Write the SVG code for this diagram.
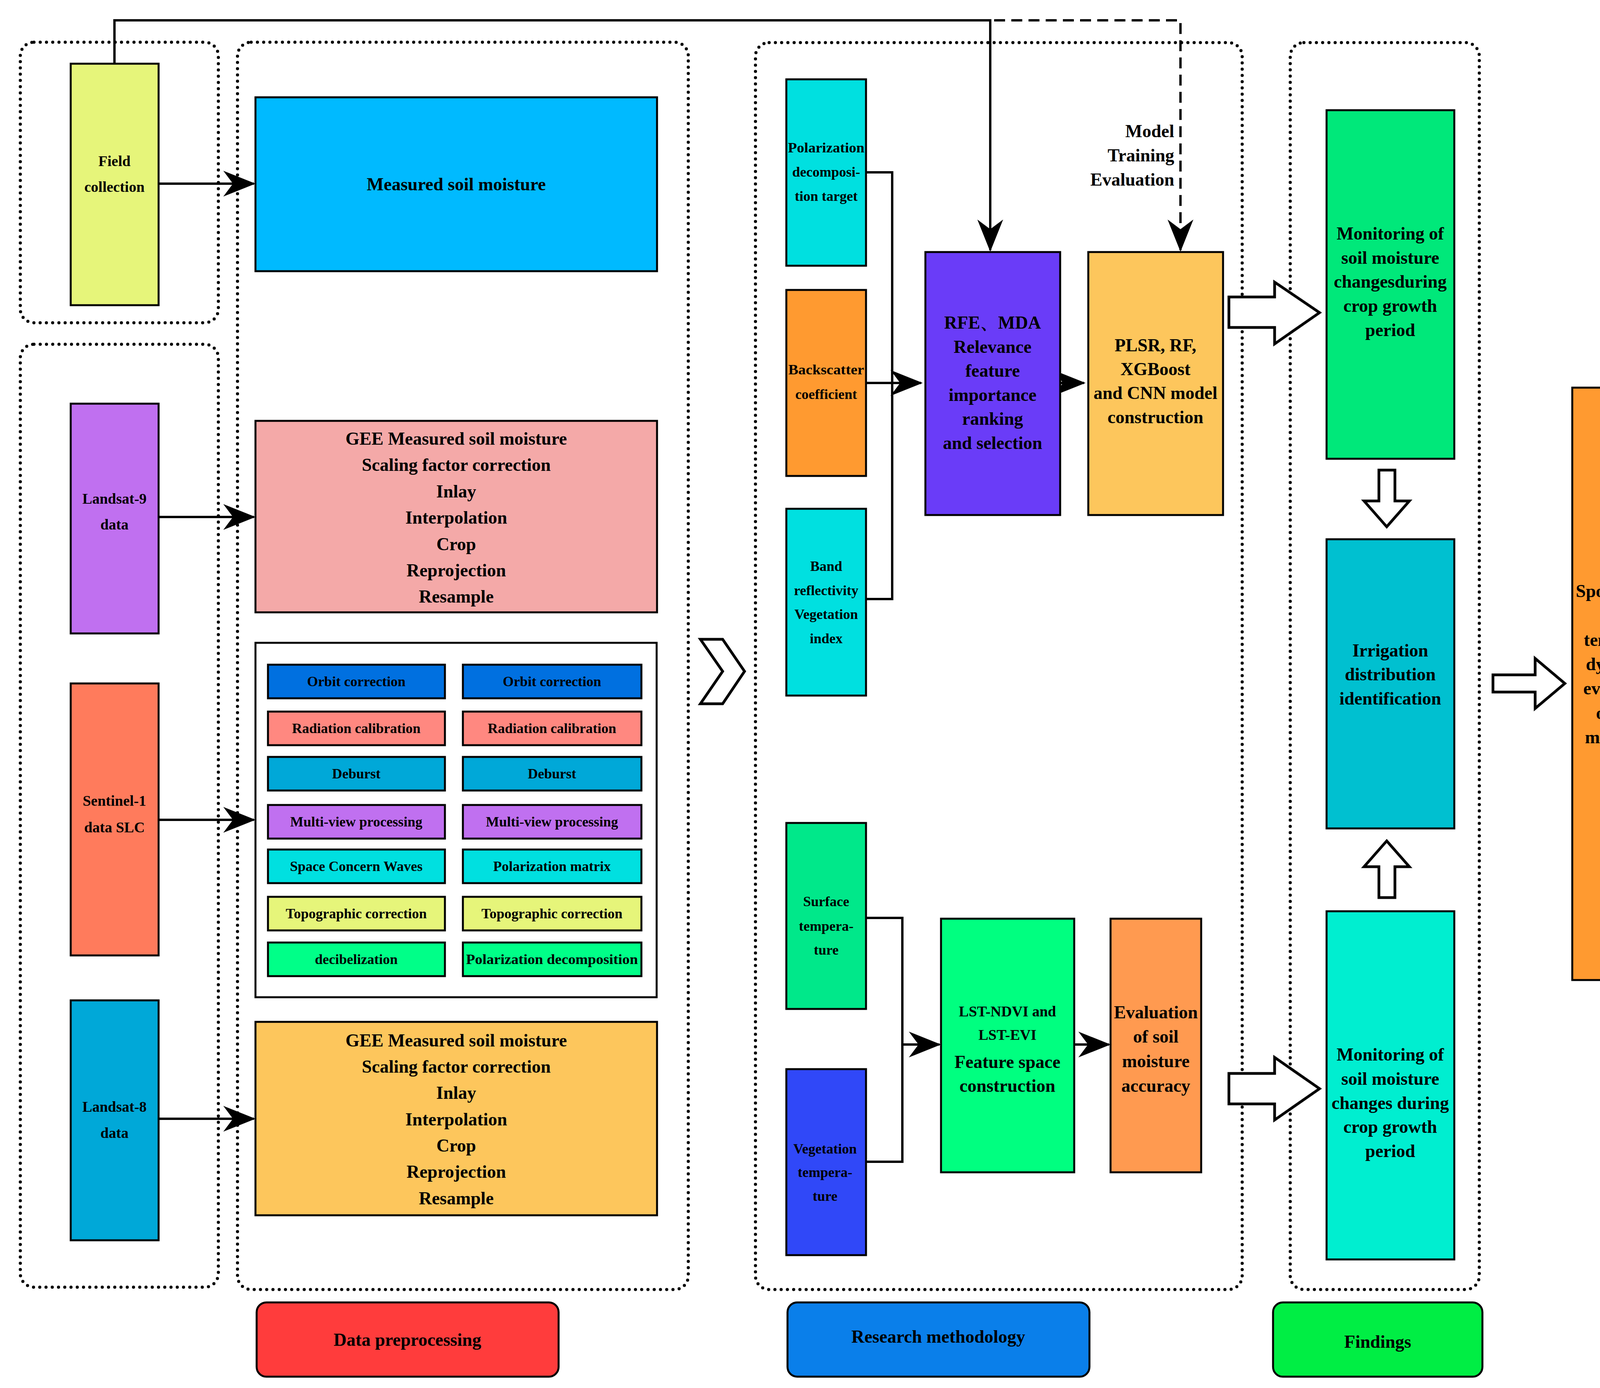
<svg xmlns="http://www.w3.org/2000/svg" width="4299" height="3552" viewBox="0 0 4299 3552">
<style>
text{font-family:"Liberation Serif","Times New Roman",serif;font-weight:bold;text-anchor:middle;dominant-baseline:central;fill:#000}
.b{stroke:#000;stroke-width:5}
.dot{fill:none;stroke:#000;stroke-width:8;stroke-dasharray:0 16;stroke-linecap:round}
.ln{fill:none;stroke:#000;stroke-width:6}
.ha{fill:#fff;stroke:#000;stroke-width:7}
.s36{font-size:36px}.s38{font-size:38px}.s44{font-size:46px}
</style>
<defs><marker id="ar" viewBox="0 0 20 16" refX="19" refY="8" markerWidth="20" markerHeight="16" markerUnits="userSpaceOnUse" orient="auto"><path d="M0,0L20,8L0,16L6,8Z" fill="#000" transform="scale(1)"/></marker>
<marker id="ab" viewBox="0 0 20 16" refX="19" refY="8" markerWidth="14" markerHeight="11" orient="auto"><path d="M0,0L20,8L0,16L6,8Z" fill="#000"/></marker></defs>
<rect width="4299" height="3552" fill="#fff"/>
<g id="groups">
<rect class="dot" x="52" y="108" width="507" height="718" rx="35"/>
<rect class="dot" x="52" y="881" width="507" height="2413" rx="35"/>
<rect class="dot" x="608" y="108" width="1154" height="3192" rx="35"/>
<rect class="dot" x="1934" y="109" width="1246" height="3191" rx="35"/>
<rect class="dot" x="3303" y="109" width="484" height="3191" rx="35"/>
</g>
<g id="connectors">
<path class="ln" d="M293,163V52H2535V640" marker-end="url(#ab)"/>
<path class="ln" d="M2545,52H3022V640" stroke-dasharray="28,16" marker-end="url(#ab)"/>
<path class="ln" d="M406,470H650" marker-end="url(#ab)"/>
<path class="ln" d="M406,1323H650" marker-end="url(#ab)"/>
<path class="ln" d="M406,2098H650" marker-end="url(#ab)"/>
<path class="ln" d="M406,2863H650" marker-end="url(#ab)"/>
<path class="ln" d="M2211,441H2284V1533H2211"/>
<path class="ln" d="M2211,980H2358" marker-end="url(#ab)"/>
<path class="ln" d="M2707,980H2775" marker-end="url(#ab)"/>
<path class="ln" d="M2217,2349H2310V2973H2217"/>
<path class="ln" d="M2310,2673H2405" marker-end="url(#ab)"/>
<path class="ln" d="M2750,2673H2839" marker-end="url(#ab)"/>
<polygon class="ha" points="1793,1636 1850,1636 1906,1718 1850,1801 1793,1801 1850,1718"/>
<polygon class="ha" points="3146,760 3263,760 3263,722 3378,800 3263,880 3263,838 3146,838"/>
<polygon class="ha" points="3146,2747 3263,2747 3263,2706 3378,2786 3263,2866 3263,2825 3146,2825"/>
<polygon class="ha" points="3530,1203 3571,1203 3571,1282 3608,1282 3550,1348 3492,1282 3530,1282"/>
<polygon class="ha" points="3530,2297 3571,2297 3571,2218 3608,2218 3550,2152 3492,2218 3530,2218"/>
<polygon class="ha" points="3822,1727 3930,1727 3930,1685 4006,1749 3930,1813 3930,1771 3822,1771"/>
</g>
<g id="field"><rect class="b" x="181" y="163" width="225" height="618" fill="#E6F57A"/><text class="s38" x="293" y="412">Field</text><text class="s38" x="293" y="478">collection</text></g>
<g id="landsat9"><rect class="b" x="181" y="1033" width="225" height="588" fill="#C070F0"/><text class="s38" x="293" y="1276">Landsat-9</text><text class="s38" x="293" y="1342">data</text></g>
<g id="sentinel1"><rect class="b" x="181" y="1749" width="225" height="696" fill="#FF7B5C"/><text class="s38" x="293" y="2049">Sentinel-1</text><text class="s38" x="293" y="2117">data SLC</text></g>
<g id="landsat8"><rect class="b" x="181" y="2560" width="225" height="614" fill="#00A8D8"/><text class="s38" x="293" y="2832">Landsat-8</text><text class="s38" x="293" y="2899">data</text></g>
<g id="measured"><rect class="b" x="654" y="249" width="1028" height="445" fill="#00BAFF"/><text class="s44" x="1168" y="471">Measured soil moisture</text></g>
<g id="gee9"><rect class="b" x="654" y="1077" width="1028" height="490" fill="#F4A9A8"/>
<text class="s44" x="1168" y="1122">GEE Measured soil moisture</text><text class="s44" x="1168" y="1189">Scaling factor correction</text><text class="s44" x="1168" y="1257">Inlay</text><text class="s44" x="1168" y="1324">Interpolation</text><text class="s44" x="1168" y="1392">Crop</text><text class="s44" x="1168" y="1459">Reprojection</text><text class="s44" x="1168" y="1526">Resample</text></g>
<g id="sar">
<rect class="b" x="654" y="1645" width="1027" height="907" fill="#fff"/>
<rect class="b" x="686" y="1701" width="453" height="86" fill="#0070E0"/><rect class="b" x="1185" y="1701" width="457" height="86" fill="#0070E0"/>
<rect class="b" x="686" y="1821" width="453" height="86" fill="#FF8880"/><rect class="b" x="1185" y="1821" width="457" height="86" fill="#FF8880"/>
<rect class="b" x="686" y="1937" width="453" height="86" fill="#00A8D8"/><rect class="b" x="1185" y="1937" width="457" height="86" fill="#00A8D8"/>
<rect class="b" x="686" y="2060" width="453" height="86" fill="#C070F0"/><rect class="b" x="1185" y="2060" width="457" height="86" fill="#C070F0"/>
<rect class="b" x="686" y="2174" width="453" height="86" fill="#00E0E0"/><rect class="b" x="1185" y="2174" width="457" height="86" fill="#00E0E0"/>
<rect class="b" x="686" y="2295" width="453" height="86" fill="#E6F57A"/><rect class="b" x="1185" y="2295" width="457" height="86" fill="#E6F57A"/>
<rect class="b" x="686" y="2412" width="453" height="86" fill="#00FF88"/><rect class="b" x="1185" y="2412" width="457" height="86" fill="#00FF88"/>
<text class="s36" x="912" y="1744">Orbit correction</text><text class="s36" x="1413" y="1744">Orbit correction</text>
<text class="s36" x="912" y="1864">Radiation calibration</text><text class="s36" x="1413" y="1864">Radiation calibration</text>
<text class="s36" x="912" y="1980">Deburst</text><text class="s36" x="1413" y="1980">Deburst</text>
<text class="s36" x="912" y="2103">Multi-view processing</text><text class="s36" x="1413" y="2103">Multi-view processing</text>
<text class="s36" x="912" y="2217">Space Concern Waves</text><text class="s36" x="1413" y="2217">Polarization matrix</text>
<text class="s36" x="912" y="2338">Topographic correction</text><text class="s36" x="1413" y="2338">Topographic correction</text>
<text class="s36" x="912" y="2455">decibelization</text><text class="s36" x="1413" y="2455" textLength="440" lengthAdjust="spacingAndGlyphs">Polarization decomposition</text>
</g>
<g id="gee8"><rect class="b" x="654" y="2615" width="1028" height="495" fill="#FDC65C"/>
<text class="s44" x="1168" y="2662">GEE Measured soil moisture</text><text class="s44" x="1168" y="2729">Scaling factor correction</text><text class="s44" x="1168" y="2796">Inlay</text><text class="s44" x="1168" y="2864">Interpolation</text><text class="s44" x="1168" y="2931">Crop</text><text class="s44" x="1168" y="2998">Reprojection</text><text class="s44" x="1168" y="3066">Resample</text></g>
<g id="poltarget"><rect class="b" x="2013" y="203" width="204" height="477" fill="#00E0E0"/><text class="s36" x="2115" y="378" textLength="196" lengthAdjust="spacingAndGlyphs">Polarization</text><text class="s36" x="2115" y="440">decomposi-</text><text class="s36" x="2115" y="502">tion target</text></g>
<g id="backscatter"><rect class="b" x="2013" y="742" width="204" height="476" fill="#FF9A30"/><text class="s36" x="2115" y="946" textLength="194" lengthAdjust="spacingAndGlyphs">Backscatter</text><text class="s36" x="2115" y="1009">coefficient</text></g>
<g id="band"><rect class="b" x="2013" y="1302" width="204" height="478" fill="#00E0E0"/><text class="s36" x="2115" y="1449">Band</text><text class="s36" x="2115" y="1511">reflectivity</text><text class="s36" x="2115" y="1572">Vegetation</text><text class="s36" x="2115" y="1634">index</text></g>
<g id="rfe"><rect class="b" x="2369" y="645" width="345" height="673" fill="#6A3CF8"/>
<text class="s44" x="2541" y="825">RFE、MDA</text><text class="s44" x="2541" y="887">Relevance</text><text class="s44" x="2541" y="948">feature</text><text class="s44" x="2541" y="1010">importance</text><text class="s44" x="2541" y="1071">ranking</text><text class="s44" x="2541" y="1133">and selection</text></g>
<g id="plsr"><rect class="b" x="2786" y="645" width="345" height="673" fill="#FDC65C"/>
<text class="s44" x="2958" y="883">PLSR, RF,</text><text class="s44" x="2958" y="944">XGBoost</text><text class="s44" x="2958" y="1005">and CNN model</text><text class="s44" x="2958" y="1067">construction</text></g>
<g id="mte"><text class="s44" x="3006" y="335" style="text-anchor:end">Model</text><text class="s44" x="3006" y="397" style="text-anchor:end">Training</text><text class="s44" x="3006" y="459" style="text-anchor:end">Evaluation</text></g>
<g id="surface"><rect class="b" x="2013" y="2106" width="204" height="476" fill="#00E88A"/><text class="s36" x="2115" y="2307">Surface</text><text class="s36" x="2115" y="2370">tempera-</text><text class="s36" x="2115" y="2431">ture</text></g>
<g id="vegtemp"><rect class="b" x="2013" y="2736" width="204" height="476" fill="#3048F8"/><text class="s36" x="2112" y="2940">Vegetation</text><text class="s36" x="2112" y="3000">tempera-</text><text class="s36" x="2112" y="3061">ture</text></g>
<g id="lst"><rect class="b" x="2409" y="2351" width="341" height="649" fill="#00FF80"/><text class="s38" x="2579" y="2588">LST-NDVI and</text><text class="s38" x="2579" y="2648">LST-EVI</text><text class="s44" x="2579" y="2717">Feature space</text><text class="s44" x="2579" y="2778">construction</text></g>
<g id="eval"><rect class="b" x="2843" y="2351" width="232" height="649" fill="#FF9A50"/><text class="s44" x="2959" y="2590">Evaluation</text><text class="s44" x="2959" y="2652">of soil</text><text class="s44" x="2959" y="2715">moisture</text><text class="s44" x="2959" y="2778">accuracy</text></g>
<g id="mon1"><rect class="b" x="3396" y="282" width="327" height="892" fill="#00E87A"/><text class="s44" x="3559" y="597">Monitoring of</text><text class="s44" x="3559" y="659">soil moisture</text><text class="s44" x="3559" y="720">changesduring</text><text class="s44" x="3559" y="782">crop growth</text><text class="s44" x="3559" y="844">period</text></g>
<g id="irrig"><rect class="b" x="3396" y="1380" width="327" height="740" fill="#00C0D0"/><text class="s44" x="3559" y="1664">Irrigation</text><text class="s44" x="3559" y="1725">distribution</text><text class="s44" x="3559" y="1787">identification</text></g>
<g id="mon2"><rect class="b" x="3396" y="2332" width="327" height="891" fill="#00EED0"/><text class="s44" x="3559" y="2698">Monitoring of</text><text class="s44" x="3559" y="2760">soil moisture</text><text class="s44" x="3559" y="2822">changes during</text><text class="s44" x="3559" y="2883">crop growth</text><text class="s44" x="3559" y="2945">period</text></g>
<g id="sporadium"><rect class="b" x="4025" y="992" width="238" height="1516" fill="#FF9A30"/><text class="s44" x="4144" y="1512">Sporadium</text><text class="s44" x="4144" y="1574">and</text><text class="s44" x="4144" y="1637">temporal</text><text class="s44" x="4144" y="1699">dynamic</text><text class="s44" x="4144" y="1761">evolution</text><text class="s44" x="4144" y="1824">of soil</text><text class="s44" x="4144" y="1886">moisture</text></g>
<g id="lab1"><rect class="b" x="657" y="3333" width="773" height="190" rx="25" fill="#FF3C3C"/><text class="s44" x="1043" y="3428">Data preprocessing</text></g>
<g id="lab2"><rect class="b" x="2016" y="3333" width="773" height="190" rx="25" fill="#0A7FEA"/><text class="s44" x="2402" y="3420">Research methodology</text></g>
<g id="lab3"><rect class="b" x="3259" y="3333" width="536" height="190" rx="25" fill="#00EE44"/><text class="s44" x="3527" y="3433">Findings</text></g>
</svg>
